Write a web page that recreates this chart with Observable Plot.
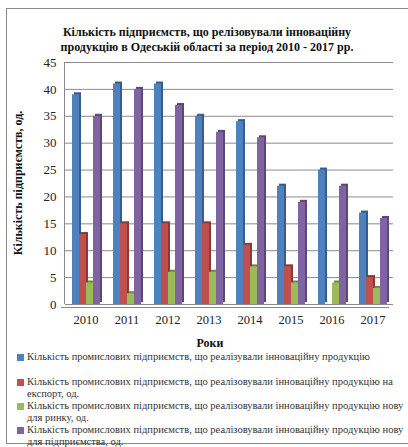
<!DOCTYPE html>
<html><head><meta charset="utf-8">
<script src="https://cdn.jsdelivr.net/npm/d3@7"></script>
<script src="https://cdn.jsdelivr.net/npm/@observablehq/plot@0.6"></script>
<style>
body{margin:0;background:#fff;}
#wrap{position:relative;width:408px;height:447px;overflow:hidden;font-family:"Liberation Serif","Times New Roman",serif;color:#222;}
#wrap svg{position:absolute;left:0;top:0;}
#wrap svg, #wrap svg text{font-family:"Liberation Serif","Times New Roman",serif !important;}
#wrap svg g[aria-label^="y-axis"] text{font-size:13px !important;}
#wrap svg g[aria-label^="fx-axis"] text{font-size:12.5px !important;}
#frame{position:absolute;left:6px;top:8px;width:430px;height:436px;border:1px solid #8a8a8a;border-right:none;box-sizing:border-box;}
#title{position:absolute;left:0;width:414px;top:25px;text-align:center;font-weight:bold;font-size:12px;line-height:15px;color:#111;}
#ytitle{position:absolute;left:18px;top:183px;transform:translate(-50%,-50%) rotate(-90deg);white-space:nowrap;font-weight:bold;font-size:12px;color:#111;}
#xtitle{position:absolute;left:210px;top:343px;transform:translate(-50%,-50%);font-weight:bold;font-size:12px;color:#111;}
#wall{position:absolute;left:64px;top:62px;width:0;height:242px;border-left:1px solid #8a8a8a;}
#legend{position:absolute;left:17px;top:351px;font-size:10.5px;line-height:12px;color:#333;white-space:nowrap;}
.item{position:relative;padding-left:10px;}
.sw{position:absolute;left:0;top:3px;width:7px;height:7px;}
</style>
</head><body>
<div id="wrap">
<div id="frame"></div>
<div id="title">Кількість підприємств, що релізовували інноваційну<br>продукцію в Одеській області за період 2010 - 2017 рр.</div>
<div id="ytitle">Кількість підприємств, од.</div>
<div id="wall"></div>
<div id="xtitle">Роки</div>
<div id="legend"></div>
</div>
<script>
const years = ["2010","2011","2012","2013","2014","2015","2016","2017"];
const seriesNames = [
  "Кількість промислових підприємств, що реалізували інноваційну продукцію",
  "Кількість промислових підприємств, що реалізовували інноваційну продукцію на|експорт, од.",
  "Кількість промислових підприємств, що реалізовували інноваційну продукцію нову|для ринку, од.",
  "Кількість промислових підприємств, що реалізовували інноваційну продукцію нову|для підприємства, од."
];
const soldInnovative = [39, 41, 41, 35, 34, 22, 25, 17];
const soldExport = [13, 15, 15, 15, 11, 7, null, 5];
const newForMarket = [4, 2, 6, 6, 7, 4, 4, 3];
const newForEnterprise = [35, 40, 37, 32, 31, 19, 22, 16];
const colors = ["#4F81BD", "#C0504D", "#9BBB59", "#8064A2"];
const sideColors = ["#385D8A", "#8C3836", "#71893F", "#5C4776"];
const yTicks = [0, 5, 10, 15, 20, 25, 30, 35, 40, 45];

const seriesKeys = ["s0", "s1", "s2", "s3"];
const allSeries = [soldInnovative, soldExport, newForMarket, newForEnterprise];
const rows = [];
years.forEach((yr, i) => allSeries.forEach((arr, k) => {
  if (arr[i] != null) rows.push({year: yr, series: seriesKeys[k], value: arr[i], side: sideColors[k]});
}));

const chart = Plot.plot({
  width: 408, height: 447,
  marginTop: 62, marginBottom: 143, marginLeft: 65, marginRight: 15,
  style: {fontFamily: "'Liberation Serif', serif", fontSize: "12px", background: "transparent", color: "#222", overflow: "visible"},
  fx: {domain: years, padding: 0, label: null, tickSize: 0, tickPadding: 11, axis: "bottom"},
  x: {domain: seriesKeys, axis: null, paddingInner: 0, paddingOuter: 0.72},
  y: {domain: [0, 45], ticks: yTicks, label: null, tickSize: 0, tickPadding: 9},
  color: {type: "ordinal", domain: seriesKeys, range: colors},
  marks: [
    Plot.ruleY(yTicks, {stroke: "#8a8a8a", strokeWidth: 1}),
    Plot.ruleY([0], {stroke: "#8a8a8a", dx: -4, dy: 3}),
    Plot.barY(rows, {fx: "year", x: "series", y: "value", fill: "side", dx: 2, dy: -2}),
    Plot.barY(rows, {fx: "year", x: "series", y: "value", fill: "series"})
  ]
});
document.getElementById("wrap").insertBefore(chart, document.getElementById("title"));

const legend = document.getElementById("legend");
const tops = [0, 25, 49, 73];
seriesNames.forEach((name, k) => {
  const it = document.createElement("div");
  it.className = "item";
  it.style.position = "absolute";
  it.style.top = tops[k] + "px";
  const sw = document.createElement("span");
  sw.className = "sw";
  sw.style.background = colors[k];
  it.appendChild(sw);
  name.split("|").forEach((ln, j) => {
    if (j) it.appendChild(document.createElement("br"));
    it.appendChild(document.createTextNode(ln));
  });
  legend.appendChild(it);
});
</script>
</body></html>
